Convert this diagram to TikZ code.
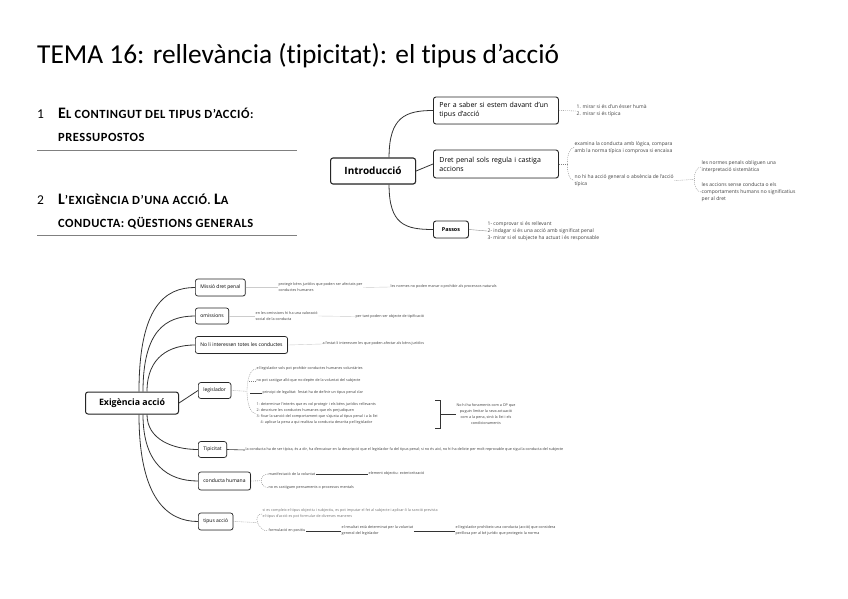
\documentclass[tikz,border=0pt]{standalone}
\usepackage{fontspec}
\setmainfont{Carlito}[Ligatures={NoCommon,TeX}]
\newfontfamily\mapfont{Open Sans}
\usetikzlibrary{calc,shadows}
\newcommand\hbig[1]{{\fontsize{16}{18}\selectfont #1}}
\tikzset{
  mbox/.style={draw=black!85, line width=0.9pt, rounded corners=2.5pt, fill=white, inner xsep=6pt, inner ysep=3pt, font=\mapfont\fontsize{7}{9}\selectfont, align=left, anchor=west, drop shadow={shadow xshift=0.7pt, shadow yshift=-0.7pt, opacity=0.18}},
  rootbox/.style={mbox, line width=1.1pt, align=center, font=\mapfont\bfseries\fontsize{10}{11}\selectfont},
  sbox/.style={mbox, line width=0.7pt, align=center, inner xsep=5pt, font=\mapfont\fontsize{5}{6}\selectfont},
  tnote/.style={font=\mapfont\fontsize{5}{7}\selectfont, text=black!75, align=left, anchor=west, inner sep=0.5pt},
  bnote/.style={tnote, font=\mapfont\fontsize{3.7}{6}\selectfont},
  conn/.style={draw=black!80, line width=0.8pt},
  dconn/.style={draw=black!50, line width=0.35pt, dash pattern=on 1pt off 1pt},
  sconn/.style={draw=black!45, line width=0.4pt},
  kconn/.style={draw=black!80, line width=0.6pt},
  hrule/.style={draw=black!50, line width=0.7pt},
  head/.style={anchor=base west, inner sep=0, font=\bfseries\fontsize{12.5}{14}\selectfont\addfontfeature{LetterSpace=4}},
  hnum/.style={anchor=base west, inner sep=0, font=\fontsize{13.5}{15}\selectfont},
}
\begin{document}
\begin{tikzpicture}[x=1pt,y=-1pt]
\useasboundingbox[fill=white] (0,0) rectangle (848,599);
% title and headings
\node[anchor=base west, inner sep=0, font=\fontsize{27.4}{31}\selectfont] (title) at (37,64) {TEMA 16: rellevància (tipicitat): el tipus d’acció};
\node[hnum] (h1n) at (37,118) {1};
\node[head] (h1a) at (58,118) {\hbig{E}L CONTINGUT DEL TIPUS D’ACCIÓ:};
\node[head] (h1b) at (58,142) {PRESSUPOSTOS};
\draw[hrule] (37,150) -- (297,150);
\node[hnum] (h2n) at (37,204) {2};
\node[head] (h2a) at (58,204) {\hbig{L}’EXIGÈNCIA D’UNA ACCIÓ. \hbig{L}A};
\node[head] (h2b) at (58,227) {CONDUCTA: QÜESTIONS GENERALS};
\draw[hrule] (37,235) -- (297,235);

% ---------- top map ----------
\node[rootbox, minimum width=85, minimum height=26] (intro) at (330,171) {Introducció};
\node[mbox, text width=113, minimum height=27] (b1) at (433,110.5) {Per a saber si estem davant d’un\\tipus d’acció};
\node[mbox, text width=113, minimum height=28] (b2) at (433,164) {Dret penal sols regula i castiga\\accions};
\node[mbox, align=center, font=\mapfont\bfseries\fontsize{5.4}{6}\selectfont, minimum width=35, minimum height=17] (passos) at (433,229.5) {Passos};
\draw[conn] ($(intro.north)+(16,0)$) .. controls +(0,-40) and +(-28,0) .. (b1.west);
\draw[conn] (intro.east) -- (b2.west);
\draw[conn] ($(intro.south)+(16,0)$) .. controls +(0,40) and +(-28,0) .. (passos.west);

\node[tnote] (n11) at (576,111) {1. mirar si és d’un ésser humà\\2. mirar si és típica};
\draw[dconn] (b1.east) -- (n11.west);
\node[tnote] (n21) at (574,147.5) {examina la conducta amb lògica, compara\\amb la norma típica i comprova si encaixa};
\node[tnote] (n22) at (574,180.5) {no hi ha acció general o absència de l’acció\\típica};
\draw[dconn] (n21.west) .. controls +(-9,0) and +(-9,0) .. (n22.west);
\draw[dconn] (b2.east) -- ($(n21.west)!0.5!(n22.west)+(-6.75,0)$);
\node[tnote] (n31) at (701,167) {les normes penals obliguen una\\interpretació sistemàtica};
\node[tnote] (n32) at (701,192) {les accions sense conducta o els\\comportaments humans no significatius\\per al dret};
\draw[dconn] (n31.west) .. controls +(-9,0) and +(-9,0) .. (n32.west);
\draw[dconn] (n22.east) -- ($(n31.west)!0.5!(n32.west)+(-6.75,0)$);
\node[tnote] (n4) at (487,231) {1- comprovar si és rellevant\\2- indagar si és una acció amb significat penal\\3- mirar si el subjecte ha actuat i és responsable};
\draw[sconn] (passos.east) -- (n4.west);

% ---------- bottom map ----------
\node[rootbox, line width=1pt, font=\mapfont\bfseries\fontsize{8.8}{10}\selectfont, minimum width=93, minimum height=22] (ex) at (85,403) {Exigència acció};
\node[sbox, minimum height=17] (m1) at (195,287.5) {Missió dret penal};
\node[sbox, minimum height=16] (m2) at (195,316) {omissions};
\node[sbox, minimum height=17] (m3) at (195,345) {No li interessen totes les conductes};
\node[sbox, minimum height=16] (m4) at (198,390.5) {legislador};
\node[sbox, minimum height=16] (m5) at (198,449.5) {Tipicitat};
\node[sbox, minimum height=18] (m6) at (198,481) {conducta humana};
\node[sbox, minimum height=17] (m7) at (198,521.5) {tipus acció};
\draw[conn] ($(ex.north)+(7,0)$) .. controls +(0,-85) and +(-30,0) .. (m1.west);
\draw[conn] ($(ex.north)+(11,0)$) .. controls +(0,-60) and +(-30,0) .. (m2.west);
\draw[conn] ($(ex.north)+(15,0)$) .. controls +(0,-35) and +(-25,0) .. (m3.west);
\draw[conn] (ex.east) -- (m4.west);
\draw[conn] ($(ex.south)+(15,0)$) .. controls +(0,25) and +(-25,0) .. (m5.west);
\draw[conn] ($(ex.south)+(11,0)$) .. controls +(0,50) and +(-30,0) .. (m6.west);
\draw[conn] ($(ex.south)+(7,0)$) .. controls +(0,85) and +(-30,0) .. (m7.west);

\node[bnote] (p1) at (278,287.5) {protegir béns jurídics que poden ser afectats per\\conductes humanes};
\node[bnote] (p1b) at (390,287) {les normes no poden manar o prohibir als processos naturals};
\draw[sconn, draw=black!20] (m1.east) -- (p1.west);
\draw[sconn, draw=black!20] (p1.east) -- (p1b.west);
\node[bnote] (p2) at (255,316) {en les omissions hi ha una valoració\\social de la conducta};
\node[bnote] (p2b) at (355,316.5) {per tant poden ser objecte de tipificació};
\draw[sconn, draw=black!20] (m2.east) -- (p2.west);
\draw[sconn, draw=black!20] (p2.east) -- (p2b.west);
\node[bnote] (p3) at (322,344) {a l’estat li interessen les que poden afectar als béns jurídics};
\draw[sconn, draw=black!20] (m3.east) -- (p3.west);

\node[bnote] (l1) at (256,369) {el legislador sols pot prohibir conductes humanes voluntàries};
\node[bnote] (l2) at (256,381) {no pot castigar allò que no depèn de la voluntat del subjecte};
\node[bnote] (l3) at (262,393) {principi de legalitat: l’estat ha de definir un tipus penal clar};
\node[bnote] (l4) at (256,413.5) {1- determinar l’interès que es vol protegir i els béns jurídics rellevants\\2- descriure les conductes humanes que els perjudiquen\\3- fixar la sanció del comportament que s’ajusta al tipus penal i a la llei\\\hspace*{4pt}4- aplicar la pena a qui realitza la conducta descrita pel legislador};
\draw[dconn] (l1.west) .. controls +(-12,0) and +(-12,0) .. (l4.west);
\draw[dconn] (m4.east) -- ($(l1.west)!0.5!(l4.west)+(-9,0)$);
\draw[dconn] (l2.west) -- ++(-7,0);
\draw[kconn, line width=0.4pt] (l3.west) -- ++(-12,0);
\node[bnote, align=center, anchor=center] (l5) at (486,414) {No hi ha fonaments com a DP que\\puguin limitar la seva actuació\\com a la pena, sinó la llei i els\\condicionaments};
\draw[kconn, line width=0.5pt] (435,400) -- (440,400) -- (440,428) -- (435,428);
\draw[kconn, line width=0.4pt] (440,414) -- (l5.west);

\node[bnote] (t5) at (245,450) {la conducta ha de ser típica, és a dir, ha d’encaixar en la descripció que el legislador fa del tipus penal; si no és així, no hi ha delicte per molt reprovable que sigui la conducta del subjecte};
\draw[kconn] (m5.east) -- (t5.west);

\node[bnote] (c1) at (268,474) {manifestació de la voluntat};
\node[bnote] (c1b) at (368,474) {element objectiu: exteriorització};
\node[bnote] (c2) at (268,487.5) {no es castiguen pensaments o processos mentals};
\draw[dconn] (c1.west) .. controls +(-9,0) and +(-9,0) .. (c2.west);
\draw[dconn] (m6.east) -- ($(c1.west)!0.5!(c2.west)+(-6.75,0)$);
\draw[kconn] (c1.east) -- (c1b.west);

\node[bnote, text=black!55] (a1) at (262,514) {si es compleix el tipus objectiu i subjectiu, es pot imputar el fet al subjecte i aplicar-li la sanció prevista\\el tipus d’acció es pot formular de diverses maneres};
\node[bnote] (a2) at (268,531) {formulació en positiu};
\node[bnote] (a2b) at (341,531) {el resultat està determinat per la voluntat\\general del legislador};
\node[bnote] (a2c) at (455,531) {el legislador prohibeix una conducta (acció) que considera\\perillosa per al bé jurídic que protegeix la norma};
\draw[dconn] (a1.west) .. controls +(-10,0) and +(-10,0) .. (a2.west);
\draw[dconn] (m7.east) -- ($(a1.west)!0.5!(a2.west)+(-7.5,0)$);
\draw[kconn] (a2.east) -- (a2b.west);
\draw[kconn] (a2b.east) -- (a2c.west);
\end{tikzpicture}
\end{document}
